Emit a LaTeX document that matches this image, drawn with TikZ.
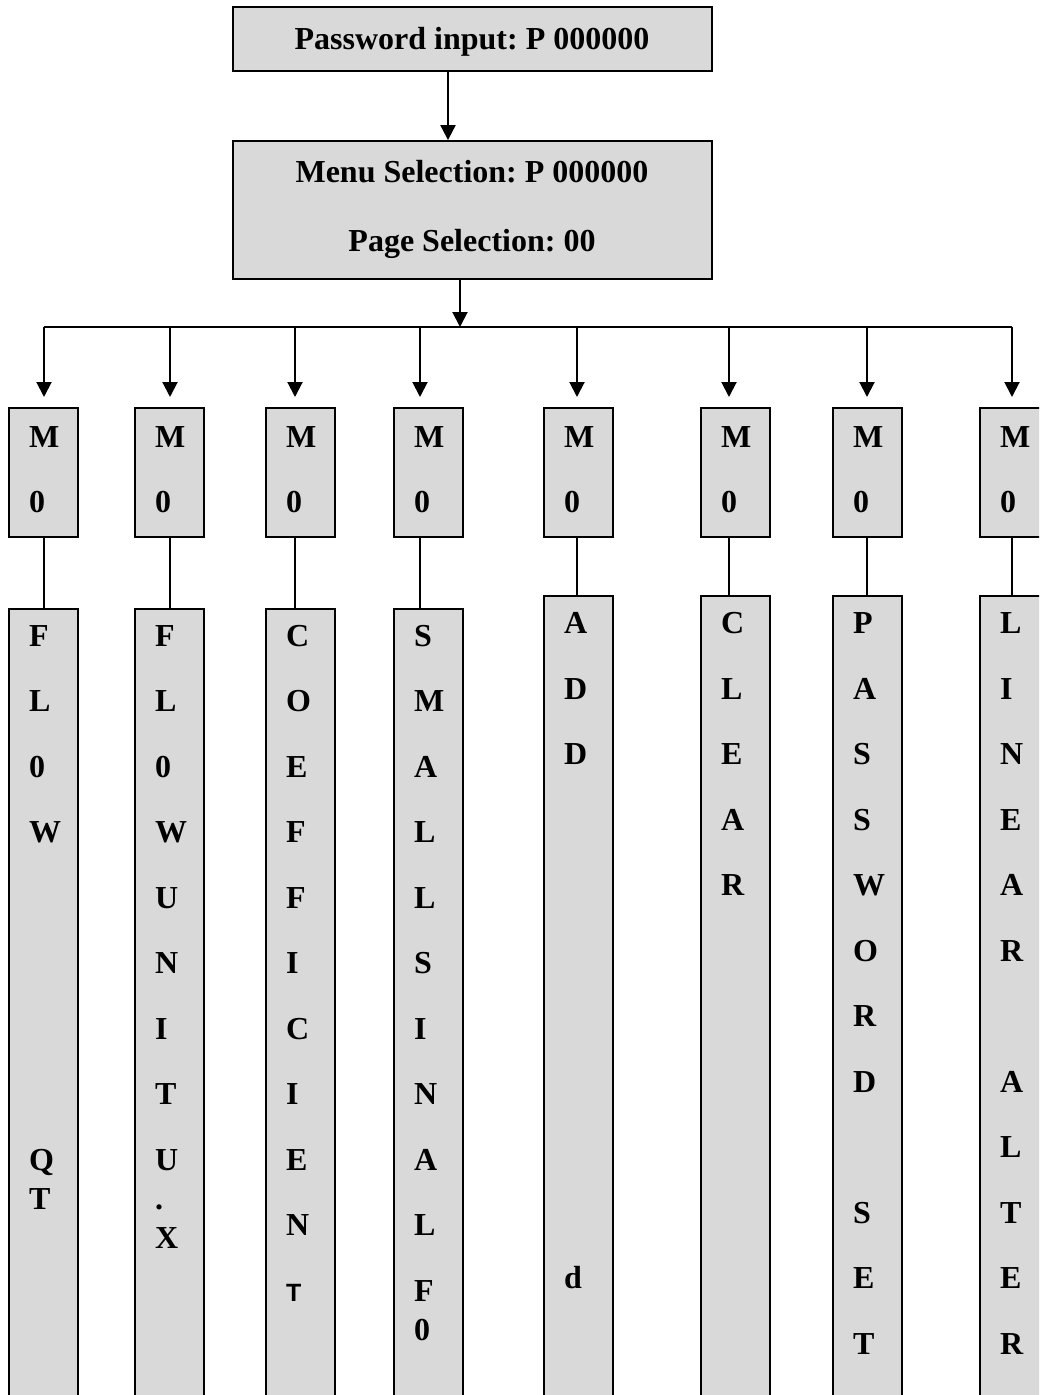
\documentclass[tikz,border=0pt]{standalone}
\usepackage{fontspec}
\setmainfont{Liberation Serif}
\setsansfont{Liberation Sans}
\usepackage{xcolor}
\usetikzlibrary{arrows.meta,calc}
\definecolor{boxgray}{HTML}{D9D9D9}
\frenchspacing

\tikzset{
  box/.style={draw, line width=1.8pt, fill=boxgray, inner sep=0pt},
  letter/.style={anchor=base west, inner sep=0pt, font=\bfseries\fontsize{32}{32}\selectfont},
  title/.style={anchor=base, inner sep=0pt, font=\bfseries\fontsize{32}{32}\selectfont},
  arr/.style={line width=2pt, -{Triangle[width=15pt,length=15pt]}},
  link/.style={line width=1.5pt},
}

% letters down a column: name, left edge, first baseline, letter/row list
\newcommand\spell[4]{%
  \foreach \t/\r [count=\k] in {#4}
    \node[letter] (#1-\k) at ({#2+21},{#3+65.5*\r}) {\t};}

\begin{document}
\begin{tikzpicture}[x=1pt,y=-1pt]
    \clip (0,0) rectangle (1039,1395);

    % Password and menu boxes
    \node[box, minimum width=479pt, minimum height=64pt] (pwd) at (472.5,39) {};
    \node[title] (pwdtxt) at (472,49) {Password input: P 000000};
    \node[box, minimum width=479pt, minimum height=138pt] (menu) at (472.5,210) {};
    \node[title] (menutxt) at (472,182) {Menu Selection: P 000000};
    \node[title] (pagetxt) at (472,251) {Page Selection: 00};

    \coordinate (pm) at (448,0);
    \draw[arr] (pwd.south -| pm) -- (menu.north -| pm);
    \coordinate (hub) at (460,327);
    \draw[arr] (menu.south -| hub) -- (hub);

    % M0 boxes with their menu columns below
    \foreach \i/\x/\bx/\top in {1/8/44/608, 2/134/170/608, 3/265/295/608, 4/393/420/608,
                               5/543/577/595, 6/700/729/595, 7/832/867/595, 8/979/1012/595} {
        \node[box, anchor=north west, minimum width=69pt, minimum height=129pt] (m\i) at (\x,407) {};
        \node[letter] (mM\i) at ({\x+21},447) {M};
        \node[letter] (mO\i) at ({\x+21},512) {0};
        \node[box, anchor=north west, minimum width=69pt, minimum height=840pt] (l\i) at (\x,\top) {};
        \coordinate (b\i) at (\bx,327);
        \draw[arr, shorten >=10pt] (b\i) -- (b\i |- m\i.north);
        \draw[link] (m\i.south -| b\i) -- (l\i.north -| b\i);
    }
    \draw[line width=2pt] (b1) -- (b8);

    % Column texts
    \spell{flow}{8}{646}{F/0,L/1,0/2,W/3,Q/8,T/8.6}
    \spell{unit}{134}{646}{F/0,L/1,0/2,W/3,U/4,N/5,I/6,T/7,U/8,./8.6,X/9.2}
    \spell{coef}{265}{646}{C/0,O/1,E/2,F/3,F/4,I/5,C/6,I/7,E/8,N/9,{\sffamily\fontsize{25}{25}\selectfont T}/10}
    \spell{small}{393}{646}{S/0,M/1,A/2,L/3,L/4,S/5,I/6,N/7,A/8,L/9,F/10,0/10.6}
    \spell{add}{543}{633.5}{A/0,D/1,D/2,d/10}
    \spell{clear}{700}{633.5}{C/0,L/1,E/2,A/3,R/4}
    \spell{pass}{832}{633.5}{P/0,A/1,S/2,S/3,W/4,O/5,R/6,D/7,S/9,E/10,T/11}
    \spell{lin}{979}{633.5}{L/0,I/1,N/2,E/3,A/4,R/5,A/7,L/8,T/9,E/10,R/11}
\end{tikzpicture}
\end{document}
